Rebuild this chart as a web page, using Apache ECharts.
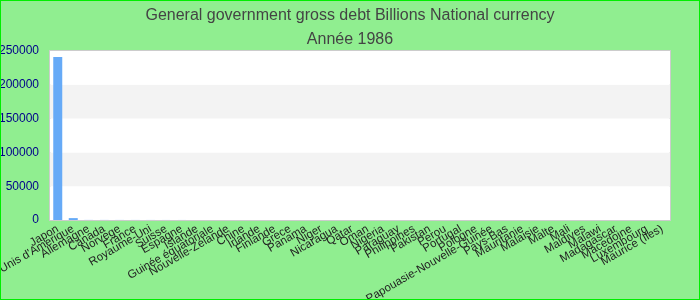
<!DOCTYPE html>
<html>
<head>
<meta charset="utf-8">
<script src="https://cdn.jsdelivr.net/npm/echarts@6/dist/echarts.min.js"></script>
<style>html,body{margin:0;padding:0;background:#90EE90;}#c{width:700px;height:300px;}</style>
</head>
<body>
<div id="c"></div>
<script>
var titleText = "General government gross debt Billions National currency";
var subtitleText = "Année 1986";
var categories = ["Japon","Etats-Unis d'Amerique","Allemagne","Canada","Norvege","France","Royaume-Uni","Suisse","Espagne","Islande","Guinée équatoriale","Nouvelle-Zélande","Chine","Irlande","Finlande","Grece","Panama","Niger","Nicaragua","Qatar","Oman","Nigeria","Paraguay","Philippines","Pakistan","Perou","Portugal","Pologne","Papouasie-Nouvelle-Guinée","Pays-Bas","Mauritanie","Malaisie","Malte","Mali","Maldives","Malawi","Madagascar","Macedoine","Luxembourg","Maurice (Iles)"];
var debtValues = [241000,2800,120,100,90,80,70,60,50,40,35,30,25,22,20,17,15,13,12,10,9,8,7,6.5,6,5,4.5,4,3.5,3,2.5,2,1.8,1.5,1.2,1,0.8,0.6,0.4,0.2];
var yMin = 0, yMax = 250000, yInterval = 50000;

var chart = echarts.init(document.getElementById('c'), null, {renderer:'canvas'});
chart.setOption({
  backgroundColor: '#90EE90',
  animation: false,
  title: {
    text: titleText,
    subtext: subtitleText,
    left: 'center',
    top: 3,
    itemGap: 8,
    textStyle: {fontSize: 16, fontWeight: 'normal', color: '#444', fontFamily: 'Liberation Sans, Arial, sans-serif'},
    subtextStyle: {fontSize: 16, color: '#444', fontFamily: 'Liberation Sans, Arial, sans-serif'}
  },
  graphic: [{
    type: 'rect', silent: true, z: 100,
    shape: {x: 0, y: 0, width: 700, height: 300},
    style: {fill: 'none', stroke: '#00ee00', lineWidth: 2}
  }],
  grid: {left: 50, right: 30, top: 51, bottom: 80, containLabel: false, outerBoundsMode: 'none', show: true, borderColor: '#cccccc', borderWidth: 2, backgroundColor: '#ffffff'},
  xAxis: {
    type: 'category',
    data: categories,
    axisLine: {show: false},
    axisTick: {show: false},
    axisLabel: {interval: 0, rotate: 30, fontSize: 11.5, color: '#222', margin: 8, fontFamily: 'Liberation Sans, Arial, sans-serif'}
  },
  yAxis: {
    type: 'value',
    min: yMin, max: yMax, interval: yInterval,
    axisLine: {show: false},
    axisTick: {show: false},
    splitLine: {show: false},
    splitArea: {show: true, areaStyle: {color: ['#ffffff', '#f3f3f3']}},
    axisLabel: {fontSize: 12, color: '#00008B', margin: 11, fontFamily: 'Liberation Sans, Arial, sans-serif', formatter: function (v) { return String(v); }}
  },
  series: [{
    type: 'bar',
    data: debtValues,
    barWidth: 9,
    itemStyle: {color: '#66aaf7'}
  }]
});
</script>
</body>
</html>
